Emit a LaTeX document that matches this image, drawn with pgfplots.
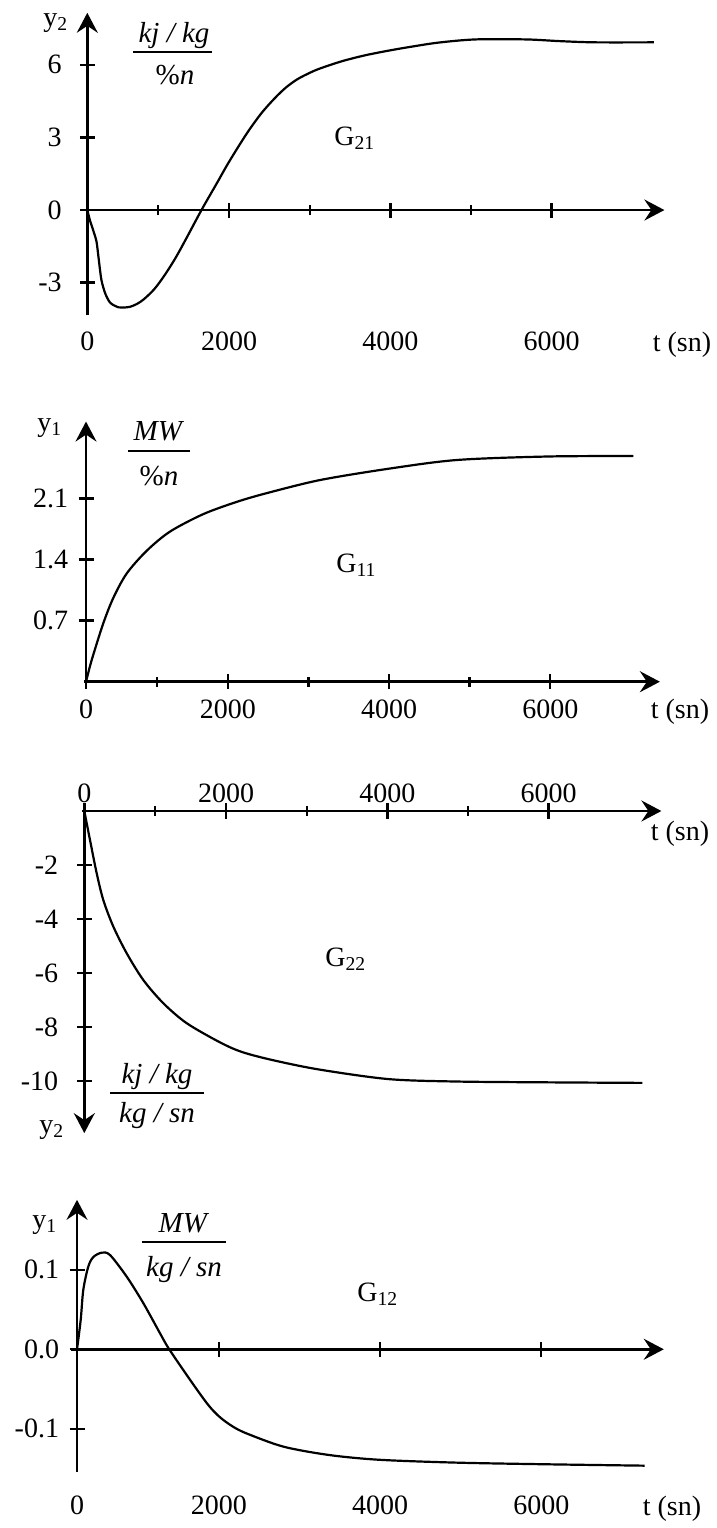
\documentclass[border=0pt]{standalone}
\usepackage{fontspec}
\setmainfont{Liberation Serif}
\usepackage{pgfplots}
\pgfplotsset{compat=1.18}
\usetikzlibrary{arrows.meta}
% the time axis of the original is drawn with 0-2000 slightly compressed
\pgfplotsset{
  x coord trafo/.code={\pgfmathparse{(#1)<2000 ? 0.88*(#1) : (#1)-240}},
  panel/.style={
    axis lines=middle,
    enlargelimits=false,
    clip=false,
    x=0.0403pt,
    anchor=south west,
    axis line style={line width=1.3pt, black},
    x axis line style={-{Stealth[length=10pt,width=10.5pt,inset=3.5pt]}},
    y axis line style={-{Stealth[length=10pt,width=10.5pt,inset=3.5pt]}},
    tick style={line width=1.2pt, black},
    major tick length=7.5pt,
    minor tick length=5pt,
    tick align=center,
    hide obscured x ticks=false,
    hide obscured y ticks=false,
    xtick={0,2000,4000,6000},
    xticklabels={0,2000,4000,6000},
    xticklabel style={anchor=base, inner sep=0pt},
    yticklabel style={anchor=east, inner sep=0pt},
  },
  curve/.style={black, line width=1.1pt, smooth, no markers},
}
\begin{document}
\fontsize{14}{17}\selectfont
\begin{tikzpicture}
\useasboundingbox (0pt,0pt) rectangle (358.5pt,-764pt);

% ---------- G21 ----------
\begin{axis}[panel, at={(41.52pt,-157.65pt)}, y=12.1pt,
  xmin=-60, xmax=7400, ymin=-4.35, ymax=8.15,
  ytick={-3,0,3,6}, yticklabels={-3,0,3,6},
  minor xtick={1000,3000,5000},
  xticklabel style={yshift=-66.25pt},
  yticklabel style={xshift=-8.9pt}]
\addplot[curve] coordinates {
(0,0) (40,-0.45) (90,-0.9) (130,-1.3) (160,-2.0) (200,-2.9) (260,-3.5)
(330,-3.85) (440,-4.02) (500,-4.03) (600,-4.0) (700,-3.88) (800,-3.68)
(950,-3.25) (1100,-2.65) (1250,-1.95) (1400,-1.15) (1610,0) (1825,1.1)
(2000,2.0) (2220,3.17) (2400,4.0) (2560,4.6) (2700,5.05) (2844,5.4)
(3000,5.67) (3128,5.85) (3400,6.15) (3695,6.4) (4000,6.6) (4262,6.75)
(4600,6.92) (5057,7.05) (5681,7.05) (6100,6.98) (6532,6.93) (7270,6.93)};
\end{axis}

% ---------- G11 ----------
\begin{axis}[panel, at={(41.94pt,-340.85pt)}, y=43.65pt,
  xmin=-30, xmax=7360, ymin=0, ymax=2.98,
  ytick={0.7,1.4,2.1}, yticklabels={0.7,1.4,2.1},
  minor xtick={1000,3000,5000},
  xticklabel style={yshift=-14.4pt},
  yticklabel style={xshift=-4.95pt}]
\addplot[curve] coordinates {
(0,0) (50,0.16) (103,0.31) (244,0.67) (385,0.96) (574,1.24) (856,1.5)
(1185,1.72) (1654,1.92) (2110,2.06) (2482,2.16) (3143,2.31) (3996,2.44)
(4845,2.54) (5981,2.58) (7030,2.585)};
\end{axis}

% ---------- G22 ----------
\begin{axis}[panel, at={(41.09pt,-566.55pt)}, y=13.5pt,
  xmin=-30, xmax=7400, ymin=-11.93, ymax=0,
  y axis line style={{Stealth[length=10pt,width=10.5pt,inset=3.5pt]}-},
  ytick={-10,-8,-6,-4,-2}, yticklabels={-10,-8,-6,-4,-2},
  minor xtick={1000,3000,5000},
  xticklabel style={yshift=8.25pt},
  yticklabel style={xshift=-9.15pt}]
\addplot[curve] coordinates {
(0,0) (80,-1.07) (175,-2.31) (268,-3.3) (409,-4.28) (598,-5.27) (832,-6.26)
(1114,-7.12) (1444,-7.86) (1914,-8.57) (2200,-8.93) (2597,-9.24) (3164,-9.58)
(4017,-9.93) (4867,-10.02) (6000,-10.05) (7164,-10.07)};
\end{axis}

% ---------- G12 ----------
\begin{axis}[panel, at={(35.67pt,-735.85pt)}, y=397.5pt,
  xmin=-80, xmax=7520, ymin=-0.154, ymax=0.188,
  ytick={-0.1,0,0.1}, yticklabels={-0.1,0.0,0.1},
  xticklabel style={yshift=-79.1pt},
  yticklabel style={xshift=-5.05pt}]
\addplot[curve] coordinates {
(0,0) (52,0.037) (89,0.075) (159,0.104) (230,0.116) (348,0.1215) (465,0.1186)
(701,0.0913) (935,0.058) (1171,0.02) (1300,0) (1622,-0.042) (1850,-0.07)
(2008,-0.085) (2170,-0.097) (2348,-0.106) (2802,-0.1225) (3369,-0.133)
(3993,-0.139) (4957,-0.1426) (6092,-0.1447) (7283,-0.1464)};
\end{axis}

% ---------- labels ----------
\begin{scope}[x=0.5pt, y=-0.5pt, every node/.style={inner sep=0pt}]
  % panel 1
  \node[anchor=base west] at (43,26) {y\textsubscript{2}};
  \node[anchor=base, font=\fontsize{14.5}{17}\selectfont] at (174,42) {\textit{kj / kg}};
  \draw[line width=1pt] (133,51.7) -- (212,51.7);
  \node[anchor=base, font=\fontsize{14.5}{17}\selectfont] at (175,84) {\%\textit{n}};
  \node[anchor=base west] at (334,145) {G\textsubscript{21}};
  \node[anchor=base] at (682,351) {t (sn)};
  % panel 2
  \node[anchor=base west] at (37,431) {y\textsubscript{1}};
  \node[anchor=base, font=\fontsize{14.5}{17}\selectfont] at (159,440) {\textit{MW}};
  \draw[line width=1pt] (128,451) -- (190,451);
  \node[anchor=base, font=\fontsize{14.5}{17}\selectfont] at (159,485) {\%\textit{n}};
  \node[anchor=base west] at (336,572) {G\textsubscript{11}};
  \node[anchor=base] at (680,718) {t (sn)};
  % panel 3
  \node[anchor=base] at (680,840) {t (sn)};
  \node[anchor=base west] at (325,966) {G\textsubscript{22}};
  \node[anchor=base, font=\fontsize{14.5}{17}\selectfont] at (157,1083) {\textit{kj / kg}};
  \draw[line width=1pt] (110,1092.7) -- (203.5,1092.7);
  \node[anchor=base, font=\fontsize{14.5}{17}\selectfont] at (157,1122) {\textit{kg / sn}};
  \node[anchor=base west] at (39,1133) {y\textsubscript{2}};
  % panel 4
  \node[anchor=base west] at (32,1228) {y\textsubscript{1}};
  \node[anchor=base, font=\fontsize{14.5}{17}\selectfont] at (184,1232) {\textit{MW}};
  \draw[line width=1pt] (141.7,1241.7) -- (226.3,1241.7);
  \node[anchor=base, font=\fontsize{14.5}{17}\selectfont] at (184,1276) {\textit{kg / sn}};
  \node[anchor=base west] at (357,1301) {G\textsubscript{12}};
  \node[anchor=base] at (672,1515) {t (sn)};
\end{scope}
\end{tikzpicture}
\end{document}
